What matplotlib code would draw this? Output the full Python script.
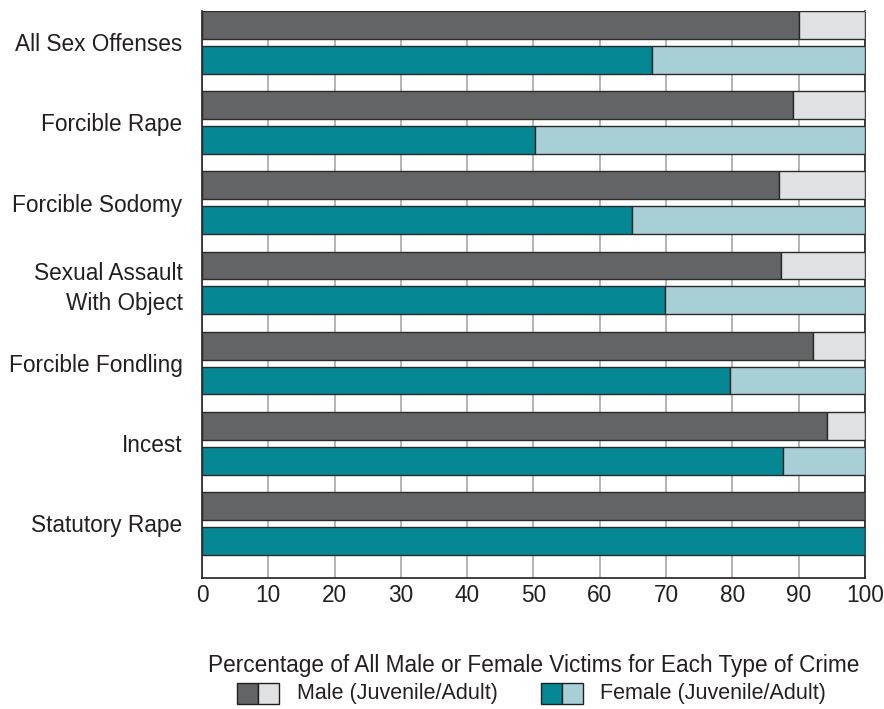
import matplotlib
matplotlib.use("Agg")
import matplotlib.pyplot as plt
from matplotlib.patches import Rectangle
import numpy as np

plt.rcParams['font.family'] = ['Liberation Sans', 'DejaVu Sans']

# crime types and juvenile share (%) of victims for each sex
crimes = ['All Sex Offenses', 'Forcible Rape', 'Forcible Sodomy',
          'Sexual Assault\nWith Object', 'Forcible Fondling', 'Incest',
          'Statutory Rape']
male_juvenile = [90.0, 89.2, 87.0, 87.3, 92.1, 94.3, 100.0]
female_juvenile = [67.9, 50.2, 64.9, 69.8, 79.6, 87.6, 100.0]
male_adult = [100 - v for v in male_juvenile]
female_adult = [100 - v for v in female_juvenile]
x_ticks = list(range(0, 101, 10))

male_dark, male_light = '#636466', '#e0e1e2'
fem_dark, fem_light = '#068894', '#a9cfd6'
txt = '#231f20'
fs = 16.3

fig = plt.figure(figsize=(8.84, 7.09), dpi=100)
ax = fig.add_axes([0.2285, 0.1848, 0.75, 0.7997])

y = np.arange(len(crimes))
h = 0.347
off = 0.217
ec = '#2a2a2a'
ax.barh(y - off, male_juvenile, height=h, color=male_dark, edgecolor=ec, linewidth=1, zorder=3)
ax.barh(y - off, male_adult, left=male_juvenile, height=h, color=male_light, edgecolor=ec, linewidth=1, zorder=3)
ax.barh(y + off, female_juvenile, height=h, color=fem_dark, edgecolor=ec, linewidth=1, zorder=3)
ax.barh(y + off, female_adult, left=female_juvenile, height=h, color=fem_light, edgecolor=ec, linewidth=1, zorder=3)

ax.set_xlim(0, 100)
ax.set_ylim(6.68, -0.39)
ax.set_xticks(x_ticks)
ax.set_xticklabels([str(t) for t in x_ticks], fontsize=fs, color=txt)
ax.set_yticks(y)
ax.set_yticklabels(crimes, fontsize=fs, color=txt, ha='right', linespacing=1.35)
ax.tick_params(axis='both', length=0)
ax.tick_params(axis='x', pad=4)
ax.tick_params(axis='y', pad=14)
ax.grid(axis='x', color='#a8a8a8', linewidth=1.2, zorder=0)
for s in ['left', 'bottom', 'right']:
    ax.spines[s].set_color(txt)
    ax.spines[s].set_linewidth(1.2)
ax.spines['top'].set_color('#a8a8a8')

ax.set_xlabel('Percentage of All Male or Female Victims for Each Type of Crime',
              fontsize=fs, color=txt, labelpad=34)

# legend drawn with two-part swatches
W, H = 884, 709
def swatch(x0, dark, light):
    for i, c in enumerate([dark, light]):
        fig.patches.append(Rectangle(((x0 + 21 * i) / W, 1 - 704 / H), 21 / W, 21 / H,
                                     transform=fig.transFigure, facecolor=c,
                                     edgecolor=txt, linewidth=1))
swatch(237, male_dark, male_light)
fig.text(297 / W, 1 - 693 / H, 'Male (Juvenile/Adult)', fontsize=15.5, va='center', color=txt)
swatch(541, fem_dark, fem_light)
fig.text(600 / W, 1 - 693 / H, 'Female (Juvenile/Adult)', fontsize=15.5, va='center', color=txt)

fig.savefig('out.png', dpi=100)
